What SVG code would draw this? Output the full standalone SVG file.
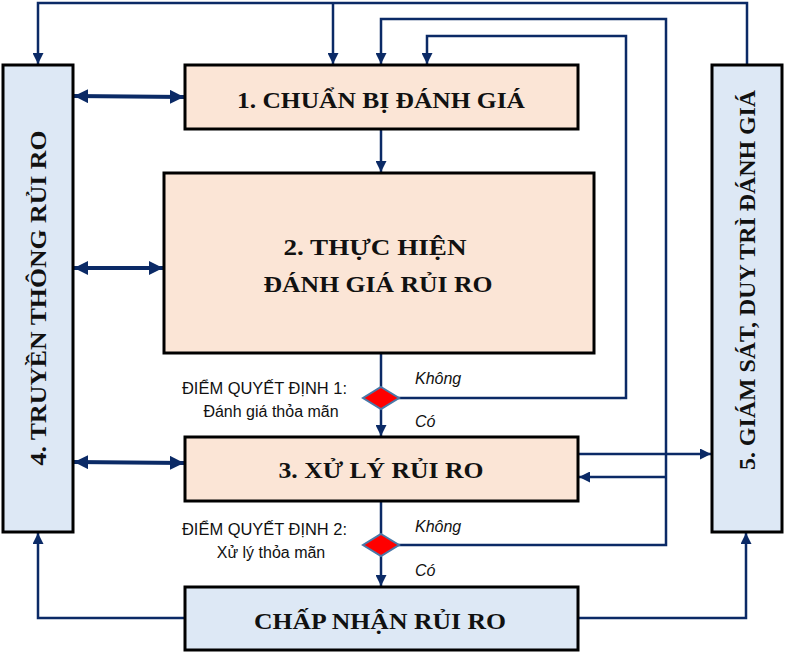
<svg xmlns="http://www.w3.org/2000/svg" width="786" height="653" viewBox="0 0 786 653">
<defs>
<style>
.box{stroke:#000;stroke-width:3}
.peach{fill:#fbe5d6}
.blue{fill:#dde8f5}
.ln{fill:none;stroke:#0b2a66;stroke-width:2.5}
.thick{fill:none;stroke:#0b2a66;stroke-width:4}
.t{font-family:"Liberation Serif","Times New Roman",serif;font-weight:bold;fill:#111;text-anchor:middle}
.s{font-family:"Liberation Sans",Arial,sans-serif;font-size:16px;fill:#111}
.i{font-family:"Liberation Sans",Arial,sans-serif;font-size:16px;font-style:italic;fill:#111}
.dia{fill:#ff0000;stroke:#4a78a8;stroke-width:2}
</style>
<marker id="ah" viewBox="0 0 10 10" refX="10" refY="5" markerWidth="4.4" markerHeight="4.4" orient="auto-start-reverse" markerUnits="strokeWidth">
<path d="M0,0 L10,5 L0,10 z" fill="#0b2a66"/>
</marker>
<marker id="ah2" viewBox="0 0 10 10" refX="10" refY="5" markerWidth="3.6" markerHeight="3.6" orient="auto-start-reverse" markerUnits="strokeWidth">
<path d="M0,0 L10,5 L0,10 z" fill="#0b2a66"/>
</marker>
</defs>

<g id="connectors">
<polyline class="ln" points="747,65 747,3 38,3 38,64" marker-end="url(#ah)"/>
<line class="ln" x1="333" y1="3" x2="333" y2="64" marker-end="url(#ah)"/>
<polyline class="ln" points="398,545 666,545 666,19 381,19 381,64" marker-end="url(#ah)"/>
<polyline class="ln" points="398,398 626,398 626,36 427,36 427,64" marker-end="url(#ah)"/>
<line class="ln" x1="381" y1="130" x2="381" y2="172" marker-end="url(#ah)"/>
<line class="ln" x1="381" y1="354" x2="381" y2="387"/>
<line class="ln" x1="381" y1="408" x2="381" y2="436" marker-end="url(#ah)"/>
<line class="ln" x1="381" y1="501" x2="381" y2="534"/>
<line class="ln" x1="381" y1="555" x2="381" y2="586" marker-end="url(#ah)"/>
<line class="ln" x1="579" y1="454" x2="711" y2="454" marker-end="url(#ah)"/>
<line class="ln" x1="666" y1="477" x2="579" y2="477" marker-end="url(#ah)"/>
<line class="thick" x1="74" y1="96" x2="184" y2="97" marker-start="url(#ah2)" marker-end="url(#ah2)"/>
<line class="thick" x1="74" y1="268" x2="163" y2="268" marker-start="url(#ah2)" marker-end="url(#ah2)"/>
<line class="thick" x1="74" y1="462" x2="184" y2="463" marker-start="url(#ah2)" marker-end="url(#ah2)"/>
<polyline class="ln" points="185,618 38,618 38,533" marker-end="url(#ah)"/>
<polyline class="ln" points="578,618 746,618 746,533" marker-end="url(#ah)"/>
</g>

<g id="box4">
<rect class="box blue" x="3" y="65" width="70" height="467"/>
<text class="t" font-size="23" transform="translate(46,298) rotate(-90)" textLength="335" lengthAdjust="spacingAndGlyphs">4. TRUYỀN THÔNG RỦI RO</text>
</g>
<g id="box5">
<rect class="box blue" x="712" y="65" width="70" height="467"/>
<text class="t" font-size="23" transform="translate(755,280) rotate(-90)" textLength="380" lengthAdjust="spacingAndGlyphs">5. GIÁM SÁT, DUY TRÌ ĐÁNH GIÁ</text>
</g>
<g id="box1">
<rect class="box peach" x="185" y="65" width="393" height="64"/>
<text class="t" font-size="23" x="381" y="108" textLength="288" lengthAdjust="spacingAndGlyphs">1. CHUẨN BỊ ĐÁNH GIÁ</text>
</g>
<g id="box2">
<rect class="box peach" x="164" y="173" width="430" height="180"/>
<text class="t" font-size="23" x="375" y="255" textLength="183" lengthAdjust="spacingAndGlyphs">2. THỰC HIỆN</text>
<text class="t" font-size="23" x="378" y="292" textLength="229" lengthAdjust="spacingAndGlyphs">ĐÁNH GIÁ RỦI RO</text>
</g>
<g id="decision1">
<polygon class="dia" points="381,387 399,398 381,409 363,398"/>
<text class="s" x="182" y="394" textLength="165" lengthAdjust="spacingAndGlyphs">ĐIỂM QUYẾT ĐỊNH 1:</text>
<text class="s" x="271" y="417" text-anchor="middle">Đánh giá thỏa mãn</text>
<text class="i" x="415" y="384">Không</text>
<text class="i" x="415" y="427">Có</text>
</g>
<g id="box3">
<rect class="box peach" x="185" y="437" width="393" height="64"/>
<text class="t" font-size="24" x="381" y="478" textLength="205" lengthAdjust="spacingAndGlyphs">3. XỬ LÝ RỦI RO</text>
</g>
<g id="decision2">
<polygon class="dia" points="381,534 399,545 381,556 363,545"/>
<text class="s" x="182" y="535" textLength="165" lengthAdjust="spacingAndGlyphs">ĐIỂM QUYẾT ĐỊNH 2:</text>
<text class="s" x="271" y="558" text-anchor="middle">Xử lý thỏa mãn</text>
<text class="i" x="415" y="532">Không</text>
<text class="i" x="415" y="576">Có</text>
</g>
<g id="box6">
<rect class="box blue" x="185" y="587" width="393" height="63"/>
<text class="t" font-size="24" x="380" y="629" textLength="252" lengthAdjust="spacingAndGlyphs">CHẤP NHẬN RỦI RO</text>
</g>
</svg>
